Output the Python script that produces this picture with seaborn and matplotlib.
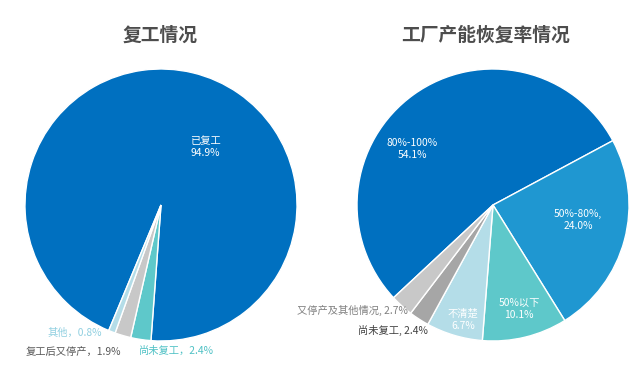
import matplotlib
matplotlib.use("Agg")
import matplotlib.pyplot as plt
import seaborn as sns

# left pie: return-to-work status
work_labels = ["已复工", "尚未复工", "复工后又停产", "其他"]
work_values = [94.9, 2.4, 1.9, 0.8]

# right pie: factory capacity recovery
cap_labels = ["80%-100%", "50%-80%", "50%以下", "不清楚", "尚未复工", "又停产及其他情况"]
cap_values = [54.1, 24.0, 10.1, 6.7, 2.4, 2.7]

titles = ["复工情况", "工厂产能恢复率情况"]

sns.set_theme(style="white")
plt.rcParams["font.family"] = ["Noto Sans CJK SC", "DejaVu Sans"]

DARK = "#0070C0"
MID = "#1F97D1"
TEAL = "#5EC8CA"
LIGHT = "#B4DDE8"
GREY1 = "#C8C8C8"
GREY2 = "#A6A6A6"

work_colors = [DARK, TEAL, GREY1, LIGHT]
cap_colors = [DARK, MID, TEAL, LIGHT, GREY2, GREY1]

fig = plt.figure(figsize=(6.39, 3.75), dpi=100)
ax1 = fig.add_axes([0.0391, 0.0907, 0.4257, 0.7253])
ax2 = fig.add_axes([0.5587, 0.0907, 0.4257, 0.7253])

wp = dict(edgecolor="white", linewidth=1)
ax1.pie(work_values, colors=work_colors, startangle=247.4, counterclock=False, wedgeprops=wp)
ax2.pie(cap_values, colors=cap_colors, startangle=223, counterclock=False, wedgeprops=wp)
for ax in (ax1, ax2):
    ax.set_aspect("auto")
    ax.set_xlim(-1, 1)
    ax.set_ylim(-1, 1)
    ax.axis("off")

fs = 7.4

# left labels
work_text = [f"{work_labels[0]}\n{work_values[0]}%",
             f"{work_labels[1]}，{work_values[1]}%",
             f"{work_labels[2]}，{work_values[2]}%",
             f"{work_labels[3]}，{work_values[3]}%"]
work_pos = [(0.324, 0.426), (0.11, -1.074), (-0.647, -1.081), (-0.632, -0.941)]
work_tc = ["white", "#4FC1C5", "#595959", "#8FCFE0"]
for t, (x, y), c in zip(work_text, work_pos, work_tc):
    ax1.text(x, y, t, ha="center", va="center", fontsize=fs, color=c, linespacing=1.2)

# right labels
cap_text = [f"{cap_labels[0]}\n{cap_values[0]}%",
            f"{cap_labels[1]},\n{cap_values[1]}%",
            f"{cap_labels[2]}\n{cap_values[2]}%",
            f"{cap_labels[3]}\n{cap_values[3]}%",
            f"{cap_labels[4]}, {cap_values[4]}%",
            f"{cap_labels[5]}, {cap_values[5]}%"]
cap_pos = [(-0.596, 0.412), (0.625, -0.11), (0.191, -0.765), (-0.221, -0.846),
           (-0.735, -0.926), (-1.037, -0.772)]
cap_tc = ["white", "white", "white", "white", "#404040", "#7F7F7F"]
for t, (x, y), c in zip(cap_text, cap_pos, cap_tc):
    ax2.text(x, y, t, ha="center", va="center", fontsize=fs, color=c, linespacing=1.2)

fig.text(160 / 639, 1 - 35 / 375, titles[0], ha="center", va="center",
         fontsize=13.5, fontweight="bold", color="#4D4D4D")
fig.text(486 / 639, 1 - 35 / 375, titles[1], ha="center", va="center",
         fontsize=13.5, fontweight="bold", color="#4D4D4D")

fig.savefig("out.png", dpi=100)
plt.close(fig)
